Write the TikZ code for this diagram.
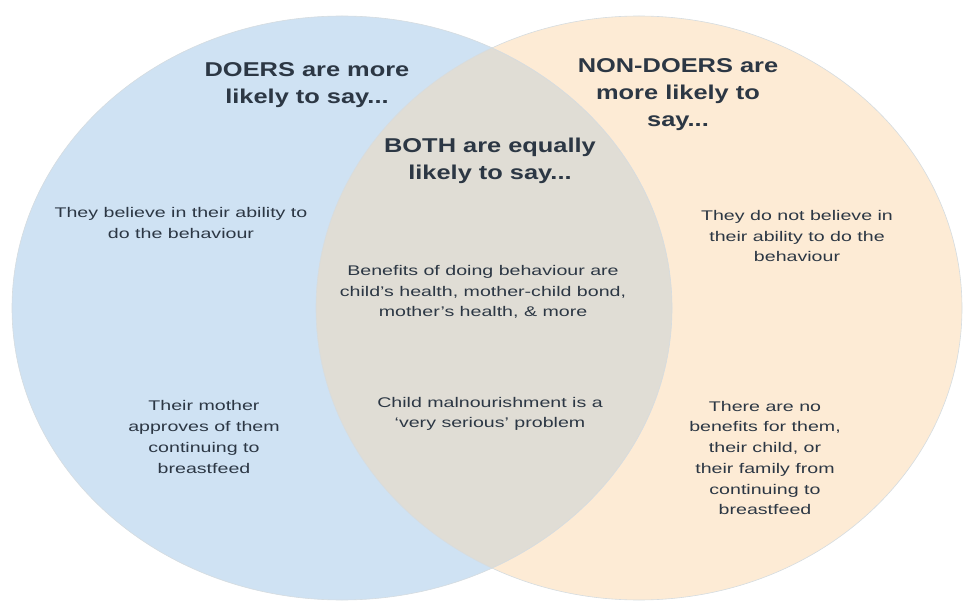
\documentclass[tikz,border=0pt]{standalone}
\usepackage{fontspec}
\setmainfont{Liberation Sans}
\newfontfamily\bodyfont[FakeStretch=1.4,Ligatures=TeX]{Liberation Sans}
\newfontfamily\headfont[FakeStretch=1.27,Ligatures=TeX]{Liberation Sans}
\definecolor{lblue}{HTML}{CFE2F3}
\definecolor{lpeach}{HTML}{FDEBD5}
\definecolor{lmix}{HTML}{E0DDD5}
\definecolor{txt}{HTML}{2C3744}
\definecolor{edge}{HTML}{B9C4CC}
\begin{document}
\begin{tikzpicture}[x=1pt,y=-1pt,
  body/.style={text=txt,align=center,font=\bodyfont\fontsize{14}{20.7}\selectfont,inner sep=0pt},
  head/.style={text=txt,align=center,font=\headfont\bfseries\fontsize{20}{27}\selectfont,inner sep=0pt}]
\useasboundingbox (0,0) rectangle (963,601);
\fill[lblue] (342,308) ellipse [x radius=330, y radius=292];
\fill[lpeach] (639,308) ellipse [x radius=323, y radius=292];
\begin{scope}
\clip (342,308) ellipse [x radius=330, y radius=292];
\fill[lmix] (639,308) ellipse [x radius=323, y radius=292];
\end{scope}
\draw[edge!60,line width=0.6pt] (342,308) ellipse [x radius=330, y radius=292];
\draw[edge!60,line width=0.6pt] (639,308) ellipse [x radius=323, y radius=292];
\node[head] (hd) at (307,85) {DOERS are more\\likely to say...};
\node[head] (hn) at (678,95) {NON-DOERS are\\more likely to\\say...};
\node[head] (hb) at (490,161) {BOTH are equally\\likely to say...};
\node[body] (d1) at (181,223) {They believe in their ability to\\do the behaviour};
\node[body] (n1) at (797,236) {They do not believe in\\their ability to do the\\behaviour};
\node[body] (b1) at (483,292) {Benefits of doing behaviour are\\child's health, mother-child bond,\\mother's health, \& more};
\node[body] (d2) at (204,437) {Their mother\\approves of them\\continuing to\\breastfeed};
\node[body] (b2) at (490,414) {Child malnourishment is a\\‘very serious’ problem};
\node[body] (n2) at (765,458) {There are no\\benefits for them,\\their child, or\\their family from\\continuing to\\breastfeed};
\end{tikzpicture}
\end{document}
